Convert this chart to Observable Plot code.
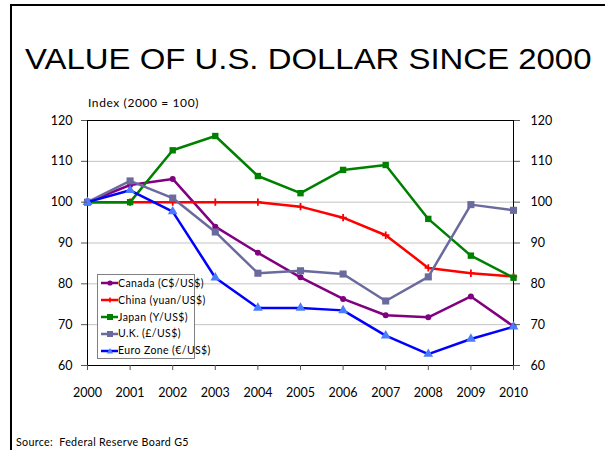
<!DOCTYPE html>
<html><head><meta charset="utf-8">
<script src="https://cdn.jsdelivr.net/npm/d3@7"></script>
<script src="https://cdn.jsdelivr.net/npm/@observablehq/plot@0.6"></script>
<style>
body{margin:0;background:#fff;}
#wrap{position:relative;width:605px;height:450px;overflow:hidden;font-family:Lato,sans-serif;background:#fff;}
#border{position:absolute;left:10px;top:4px;width:700px;height:500px;border-top:2px solid #000;border-left:2px solid #000;}
#title{position:absolute;left:25px;top:44.5px;font-family:"Liberation Sans",Arial,sans-serif;font-size:29px;line-height:1;white-space:nowrap;color:#000;transform:scaleX(1.135);transform-origin:0 0;}
#source{position:absolute;left:16px;top:437px;font-size:10.7px;letter-spacing:0.33px;line-height:1;white-space:nowrap;color:#000;}
#ylabel{position:absolute;left:88px;top:97px;font-size:12px;letter-spacing:0.6px;line-height:1;white-space:nowrap;color:#000;}
#chart{position:absolute;left:0;top:0;}
#legend{position:absolute;left:97px;top:274px;width:98px;height:85px;box-sizing:border-box;border:1px solid #808080;background:#fff;padding:0 0 0 3px;}
.row{height:16.8px;line-height:16.8px;font-size:10.5px;letter-spacing:0.4px;white-space:nowrap;display:flex;align-items:center;}
.row svg{flex:none;}
</style></head>
<body><div id="wrap">
<div id="border"></div>
<div id="title">VALUE OF U.S. DOLLAR SINCE 2000</div>
<div id="chart"></div>
<div id="ylabel"></div>
<div id="legend"></div>
<div id="source">Source:&nbsp; Federal Reserve Board G5</div>
</div>
<script>
const years = [2000, 2001, 2002, 2003, 2004, 2005, 2006, 2007, 2008, 2009, 2010];
const canada = [100, 104.2, 105.7, 94.0, 87.6, 81.6, 76.3, 72.3, 71.8, 76.9, 69.6];
const china  = [100, 100, 100, 100, 100, 98.9, 96.2, 91.9, 83.9, 82.6, 81.8];
const japan  = [100, 100, 112.7, 116.2, 106.4, 102.2, 107.9, 109.1, 95.9, 86.9, 81.5];
const uk     = [100, 105.2, 101.0, 92.7, 82.6, 83.2, 82.4, 75.8, 81.7, 99.4, 98.0];
const euro   = [100, 102.9, 97.7, 81.5, 74.1, 74.1, 73.5, 67.3, 62.8, 66.5, 69.5];
const seriesNames = ["Canada (C$/US$)", "China (yuan/US$)", "Japan (Y/US$)", "U.K. (£/US$)", "Euro Zone (€/US$)"];
const yTicks = [60, 70, 80, 90, 100, 110, 120];
const gridTicks = [70, 80, 90, 100, 110];
const yLabel = "Index (2000 = 100)";

const styles = [
  {line: "#800080", fill: "#800080", symbol: "circle", r: 3},
  {line: "#ff0000", fill: "#ff0000", symbol: "plus", r: 2.5},
  {line: "#008000", fill: "#008000", symbol: "square", r: 3.6},
  {line: "#6a6a9e", fill: "#6a6a9e", symbol: "square", r: 4},
  {line: "#0000ff", fill: "#4a7cff", symbol: "triangle", r: 3.6}
];
const seriesValues = [canada, china, japan, uk, euro];

const rows = [];
seriesValues.forEach((vals, i) => vals.forEach((v, j) => rows.push({series: seriesNames[i], idx: i, year: years[j], value: v})));

const marks = [
  Plot.gridY(gridTicks, {stroke: "#c4c4c4", strokeOpacity: 1, strokeWidth: 1}),
  Plot.frame({stroke: "#000", strokeWidth: 1})
];
seriesNames.forEach((name, i) => {
  const d = rows.filter(r => r.idx === i);
  const s = styles[i];
  marks.push(Plot.line(d, {x: "year", y: "value", stroke: s.line, strokeWidth: 2.5}));
  if (s.symbol === "plus") {
    marks.push(Plot.dot(d, {x: "year", y: "value", symbol: "plus", r: s.r, stroke: s.fill, strokeWidth: 1.8}));
  } else {
    marks.push(Plot.dot(d, {x: "year", y: "value", symbol: s.symbol, r: s.r, fill: s.fill, stroke: "none"}));
  }
});
marks.push(
  Plot.axisX({ticks: years, tickFormat: "d", tickSize: 5, tickPadding: 18, fontSize: 12.5, label: null, stroke: "#555"}),
  Plot.axisY({ticks: yTicks, anchor: "left", tickSize: 6, tickPadding: 9, fontSize: 12.5, label: null, stroke: "#555"}),
  Plot.axisY({ticks: yTicks, anchor: "right", tickSize: 6, tickPadding: 11, fontSize: 12.5, label: null, stroke: "#555"})
);

const chart = Plot.plot({
  width: 605, height: 450,
  marginLeft: 87, marginRight: 92, marginTop: 120, marginBottom: 85,
  x: {domain: [2000, 2010], type: "linear"},
  y: {domain: [60, 120]},
  style: {fontFamily: "Lato, sans-serif", color: "#000", background: "transparent", overflow: "visible"},
  marks
});
document.getElementById("chart").appendChild(chart);
document.getElementById("ylabel").textContent = yLabel;

// legend
const legend = document.getElementById("legend");
seriesNames.forEach((name, i) => {
  const s = styles[i];
  const row = document.createElement("div");
  row.className = "row";
  let marker;
  if (s.symbol === "circle") marker = `<circle cx="9" cy="8" r="2.6" fill="${s.fill}"/>`;
  else if (s.symbol === "plus") marker = `<path d="M6.5 8H11.5M9 5.5V10.5" stroke="${s.fill}" stroke-width="1.6"/>`;
  else if (s.symbol === "square") marker = `<rect x="6" y="5" width="6" height="6" fill="${s.fill}"/>`;
  else marker = `<path d="M9 5 L12.2 10.5 L5.8 10.5 Z" fill="${s.fill}"/>`;
  row.innerHTML = `<svg width="17" height="16" viewBox="0 0 17 16"><line x1="0" x2="17" y1="8" y2="8" stroke="${s.line}" stroke-width="2.5"/>${marker}</svg><span>${name}</span>`;
  legend.appendChild(row);
});
</script>
</body></html>
